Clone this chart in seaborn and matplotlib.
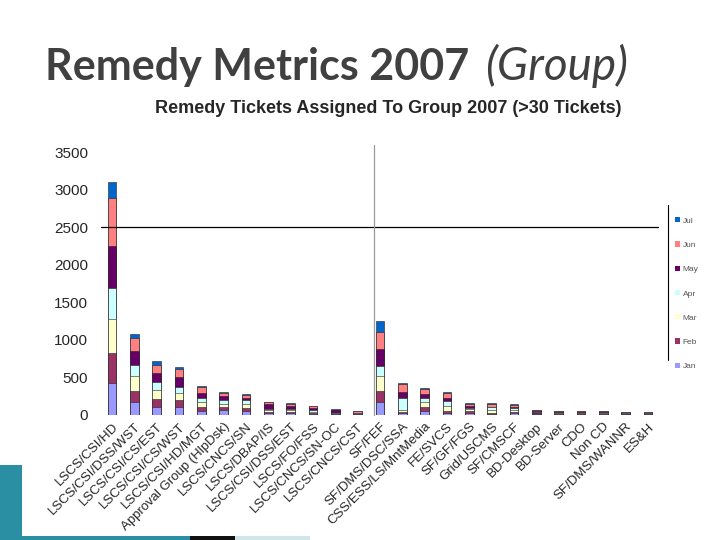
import numpy as np
import pandas as pd
import matplotlib
matplotlib.use('Agg')
import matplotlib.pyplot as plt
from matplotlib.patches import Patch, Rectangle
from matplotlib.lines import Line2D
import seaborn as sns

# 各组名称（顺序与原图一致）
groups = ['LSCS/CSI/HD', 'LSCS/CSI/DSS/WST', 'LSCS/CSI/CS/EST', 'LSCS/CSI/CS/WST',
          'LSCS/CSI/HD/MGT', 'Approval Group (HlpDsk)', 'LSCS/CNCS/SN', 'LSCS/DBAP/IS',
          'LSCS/CSI/DSS/EST', 'LSCS/FO/FSS', 'LSCS/CNCS/SN-OC', 'LSCS/CNCS/CST',
          'SF/FEF', 'SF/DMS/DSC/SSA', 'CSS/ESS/LS/MntMedia', 'FE/SVCS', 'SF/GF/FGS',
          'Grid/USCMS', 'SF/CMSCF', 'BD-Desktop', 'BD-Server', 'CDO', 'Non CD',
          'SF/DMS/WANNR', 'ES&H']

# 每月工单数
jan = [430, 169, 102, 102, 58, 62, 50, 20, 20, 14, 10, 7, 177, 22, 58, 31, 25, 10, 22, 12, 10, 7, 8, 7, 7]
feb = [400, 155, 111, 98, 44, 45, 45, 22, 20, 15, 5, 5, 146, 22, 53, 27, 25, 10, 20, 10, 8, 10, 8, 6, 6]
mar = [445, 195, 120, 89, 67, 45, 50, 20, 20, 15, 5, 5, 200, 22, 58, 62, 25, 40, 25, 10, 5, 5, 5, 5, 6]
apr = [413, 146, 111, 89, 62, 50, 50, 20, 25, 20, 5, 5, 129, 155, 53, 71, 20, 40, 20, 5, 5, 5, 5, 5, 5]
may = [563, 186, 111, 124, 67, 50, 30, 60, 30, 25, 40, 10, 222, 89, 58, 31, 25, 10, 25, 10, 15, 15, 12, 10, 8]
jun = [635, 177, 111, 106, 71, 40, 40, 30, 30, 30, 5, 20, 235, 102, 62, 75, 30, 40, 25, 15, 5, 8, 12, 5, 5]
jul = [221, 49, 53, 27, 18, 10, 15, 5, 10, 5, 10, 3, 142, 18, 13, 5, 5, 5, 5, 5, 5, 3, 3, 2, 3]

months = ['Jan', 'Feb', 'Mar', 'Apr', 'May', 'Jun', 'Jul']
colors = ['#9999FF', '#993366', '#FFFFCC', '#CCFFFF', '#660066', '#FF8080', '#0066CC']

Datas = pd.DataFrame({'group': groups, 'Jan': jan, 'Feb': feb, 'Mar': mar, 'Apr': apr,
                      'May': may, 'Jun': jun, 'Jul': jul})
cum = Datas[months].cumsum(axis=1)

sns.set_style('white')
plt.rcParams['font.family'] = ['Liberation Sans', 'DejaVu Sans']

fig = plt.figure(figsize=(7.2, 5.4), dpi=100)
ax = fig.add_axes([100.8 / 720, 125 / 540, 558.4 / 720, 263 / 540])

# 从总数往下叠加画，形成堆叠柱
for m, c in zip(months[::-1], colors[::-1]):
    sns.barplot(x=Datas['group'], y=cum[m], color=c, width=0.4, saturation=1,
                ax=ax, linewidth=0.4, edgecolor='#222222')

ax.set_ylim(0, 3500)
ax.set_xlim(-0.5, len(groups) - 0.5)
ax.set_yticks(np.arange(0, 3501, 500))
ax.set_xlabel('')
ax.set_ylabel('')
ax.tick_params(axis='y', length=0, pad=9, labelsize=11)
ax.tick_params(axis='x', length=0, pad=4)
ax.set_xticks(range(len(groups)))
ax.set_xticklabels(groups, rotation=45, ha='right', rotation_mode='anchor', fontsize=9.5)
sns.despine(ax=ax, left=True, bottom=True)

# 参考线
ax.axhline(2500, color='black', linewidth=0.9)
ax.plot([11.73, 11.73], [0, 3590], color='#999999', linewidth=0.9, clip_on=False)

# 图例
handles = [Patch(facecolor=c, edgecolor='none') for c in colors[::-1]]
fig.legend(handles, months[::-1], loc='upper left', bbox_to_anchor=(671 / 720, 1 - 213 / 540),
           frameon=False, fontsize=6, labelspacing=2.0, handlelength=0.6, handleheight=0.6,
           handletextpad=0.3, labelcolor='#555555', borderpad=0)
fig.add_artist(Line2D([668 / 720, 668 / 720], [1 - 205 / 540, 1 - 360 / 540], color='black', linewidth=0.8))

# 标题
fig.text(45 / 720, 1 - 80 / 540, 'Remedy Metrics 2007', fontsize=31, fontweight='bold',
         color='#404040', family=['Lato', 'DejaVu Sans'], va='baseline')
fig.text(485 / 720, 1 - 80 / 540, '(Group)', fontsize=33, style='italic',
         color='#404040', family=['Lato', 'DejaVu Sans'], va='baseline')
fig.text(388 / 720, 1 - 113 / 540, 'Remedy Tickets Assigned To Group 2007 (>30 Tickets)',
         fontsize=13, fontweight='bold', ha='center', va='baseline')

# 幻灯片边角装饰（放在最底层）
for x0, w, h, fc in [(0, 22, 75, '#2b8fa3'), (0, 190, 4, '#2b8fa3'),
                     (190, 45, 4, '#111111'), (235, 75, 4, '#cfe6ea')]:
    fig.add_artist(Rectangle((x0 / 720, 0), w / 720, h / 540, facecolor=fc, edgecolor='none',
                             transform=fig.transFigure, zorder=-1))

fig.savefig('out.png', dpi=100)
